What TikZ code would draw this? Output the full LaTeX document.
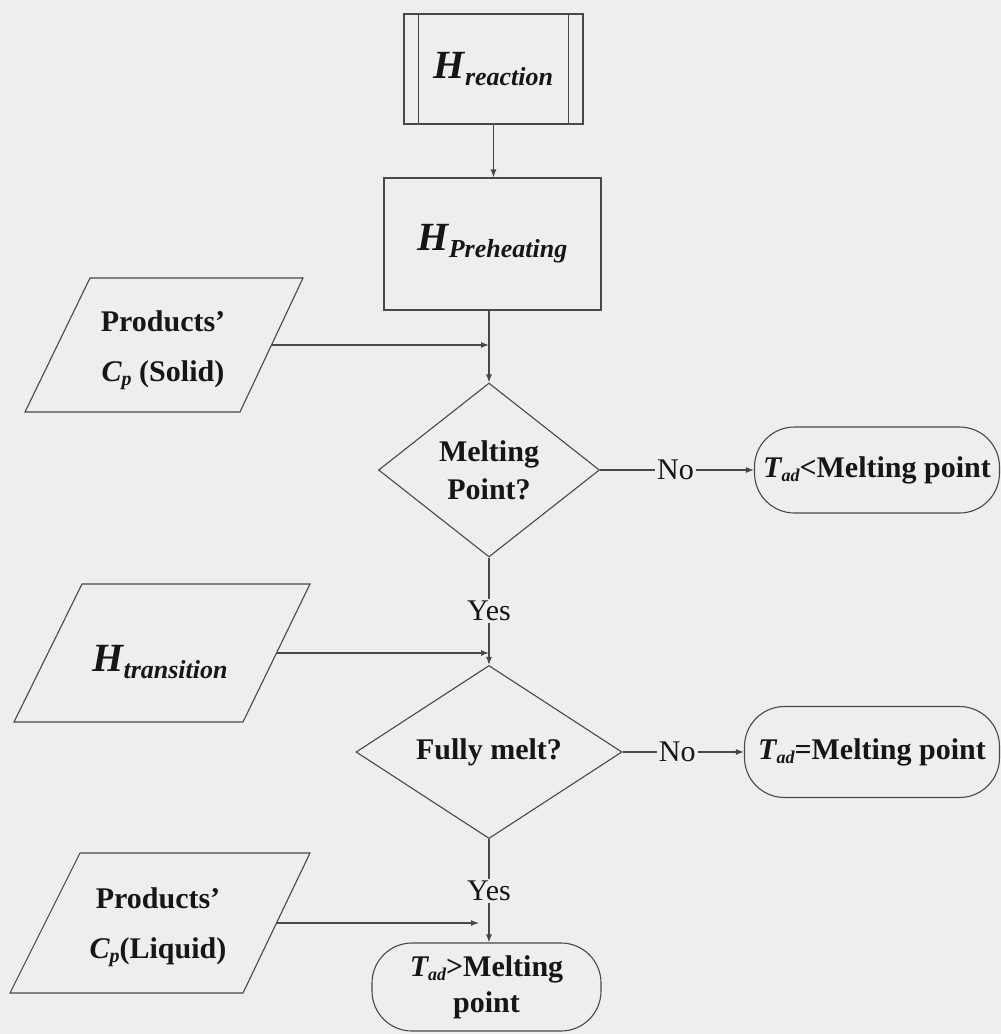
\documentclass[tikz,border=0pt]{standalone}
\usepackage{fontspec}
\setmainfont{Liberation Serif}
\usetikzlibrary{arrows.meta,shapes.geometric}
\definecolor{bg}{RGB}{238,238,236}
\definecolor{ln}{RGB}{72,72,72}
\definecolor{tx}{RGB}{22,22,22}
\newcommand{\bigH}[1]{{\fontsize{40}{44}\selectfont\bfseries\itshape H}\raisebox{-7pt}{\fontsize{26}{30}\selectfont\bfseries\itshape #1}}
\newcommand{\Tad}{{\bfseries\itshape T}\raisebox{-4pt}{\fontsize{18}{20}\selectfont\bfseries\itshape ad}}
\newcommand{\Cp}{{\bfseries\itshape C}\raisebox{-4pt}{\fontsize{20}{22}\selectfont\bfseries\itshape p}}
\begin{document}
\begin{tikzpicture}[x=1pt,y=-1pt,
  every node/.style={text=tx},
  line/.style={draw=ln, line width=1.1pt},
  arr/.style={line, -{Latex[length=8pt,width=6pt]}},
  proc/.style={line, inner sep=0pt},
  decision/.style={diamond, line, inner sep=0pt, align=center,
    font=\fontsize{30}{38}\selectfont\bfseries},
  term/.style={line, rounded corners=40pt, inner sep=0pt, align=center,
    font=\fontsize{30}{36}\selectfont\bfseries},
  datatext/.style={align=center, font=\fontsize{30}{50}\selectfont\bfseries},
  lbl/.style={fill=bg, inner sep=2pt, font=\fontsize{30}{34}\selectfont}
]
\fill[bg] (0,0) rectangle (1001,1034);
\useasboundingbox (0,0) rectangle (1001,1034);

% process boxes
\node[proc, minimum width=179pt, minimum height=110pt] (react) at (493.5,69) {\bigH{reaction}};
\draw[line] ([xshift=15pt]react.north west) -- ([xshift=15pt]react.south west);
\draw[line] ([xshift=-15pt]react.north east) -- ([xshift=-15pt]react.south east);
\node[proc, minimum width=217pt, minimum height=132pt] (pre) at (492.5,244) {\bigH{Preheating}};

% decisions
\node[decision, minimum width=221pt, minimum height=174pt] (d1) at (489,470) {Melting\\Point?};
\node[decision, minimum width=266pt, minimum height=163pt] (d2) at (489,752) {Fully melt?};

% terminals
\node[term, minimum width=245pt, minimum height=86pt] (t1) at (877,470) {\Tad{}<Melting point};
\node[term, minimum width=255pt, minimum height=91pt] (t2) at (872,752) {\Tad{}=Melting point};
\node[term, minimum width=229pt, minimum height=88pt] (t3) at (486.5,987) {\Tad{}>Melting\\point};

% data parallelograms
\draw[line] (90,278) -- (303,278) -- (240,412) -- (25,412) -- cycle;
\node[datatext] (solid) at (163,350) {Products'\\\Cp{} (Solid)};
\coordinate (solidR) at (271.5,345);
\draw[line] (82,584) -- (310,584) -- (243,722) -- (14,722) -- cycle;
\node (trans) at (160,662) {\bigH{transition}};
\coordinate (transR) at (276.5,653);
\draw[line] (80,853) -- (310,853) -- (243,993) -- (10,993) -- cycle;
\node[datatext] (liquid) at (158,927) {Products'\\\Cp{}(Liquid)};
\coordinate (liquidR) at (276.5,923);
\coordinate (liquidT) at (479,923);

% main flow
\draw[arr] (react.south) -- (react.south |- pre.north);
\draw[arr] (pre.south -| d1.north) -- (d1.north);
\draw[arr] (d1.south) -- node[lbl, pos=0.5] (yes1) {Yes} (d2.north);
\draw[arr] (d2.south) -- node[lbl, pos=0.5] (yes2) {Yes} (d2.south |- t3.north);
\draw[arr] (d1.east) -- node[lbl, pos=0.49] (no1) {No} (t1.west);
\draw[arr] (d2.east) -- node[lbl, pos=0.45] (no2) {No} (t2.west);

% inputs
\draw[arr] (solidR) -- (solidR -| d1.north);
\draw[arr] (transR) -- (transR -| d2.north);
\draw[arr] (liquidR) -- (liquidT);
\end{tikzpicture}
\end{document}
